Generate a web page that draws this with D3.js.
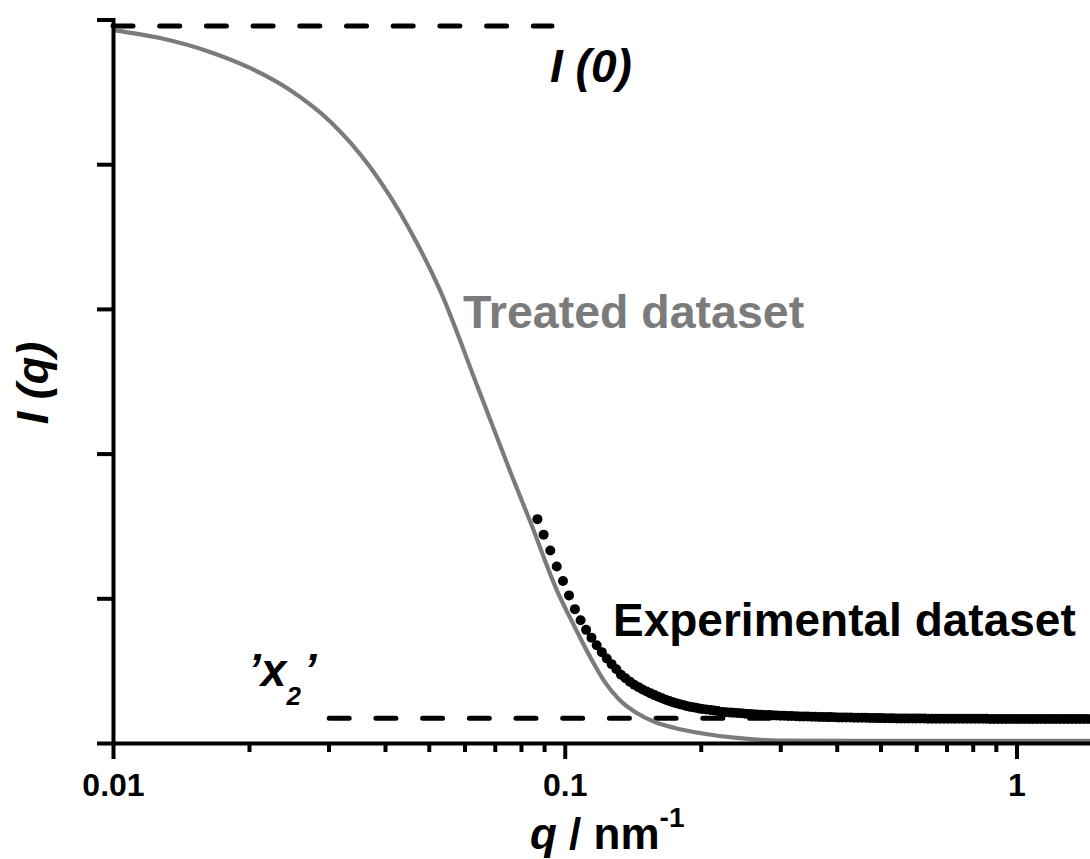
<!DOCTYPE html>
<html>
<head>
<meta charset="utf-8">
<script src="https://cdn.jsdelivr.net/npm/d3@7"></script>
<style>
  html, body { margin: 0; padding: 0; background: #fff; }
  svg { display: block; font-family: "Liberation Sans", Arial, Helvetica, sans-serif; }
</style>
</head>
<body>
<svg id="chart" width="1090" height="859"></svg>
<script>
// ---------------- data ----------------
const xMajorTicks = [0.01, 0.1, 1];
const xMajorLabels = ["0.01", "0.1", "1"];
const xMinorTicks = [0.02, 0.03, 0.04, 0.05, 0.06, 0.07, 0.08, 0.09,
                     0.2, 0.3, 0.4, 0.5, 0.6, 0.7, 0.8, 0.9];
const yTicks = [0, 1, 2, 3, 4, 5];

// Treated dataset (grey line)
const treatedQ = [0.01000, 0.01270, 0.01639, 0.02010, 0.02464, 0.03021, 0.03704, 0.04541, 0.05291, 0.06453,
                  0.07595, 0.08411, 0.09601, 0.1052, 0.1148, 0.1226, 0.1323, 0.1443, 0.1582, 0.1751,
                  0.2020, 0.2402, 0.2991, 0.4272, 0.9170, 1.455];
const treatedI = [4.927, 4.872, 4.776, 4.665, 4.513, 4.297, 3.982, 3.546, 3.131, 2.439,
                  1.866, 1.520, 1.057, 0.802, 0.574, 0.422, 0.297, 0.207, 0.145, 0.104,
                  0.066, 0.035, 0.017, 0.014, 0.014, 0.014];

// Experimental dataset (black points)
const expQ = [
  0.0870, 0.0898, 0.0929, 0.0960, 0.0991, 0.1022, 0.1053, 0.1084, 0.1115, 0.1146,
  0.1177, 0.1208, 0.1239, 0.1270, 0.1301, 0.1332, 0.1363, 0.1394, 0.1425, 0.1456,
  0.1487, 0.1518, 0.1549, 0.1580, 0.1611, 0.1642, 0.1673, 0.1704, 0.1735, 0.1766,
  0.1797, 0.1828, 0.1859, 0.1890, 0.1921, 0.1952, 0.1983, 0.2014,
  0.2055, 0.210, 0.214, 0.218, 0.223, 0.227, 0.232, 0.236, 0.241, 0.246,
  0.251, 0.256, 0.261, 0.266, 0.272, 0.277, 0.283, 0.288, 0.294, 0.300,
  0.306, 0.312, 0.318, 0.325, 0.331, 0.338, 0.345, 0.352, 0.359, 0.366,
  0.373, 0.381, 0.388, 0.396, 0.404, 0.412, 0.420, 0.429, 0.437, 0.446,
  0.455, 0.464, 0.473, 0.483, 0.493, 0.502, 0.512, 0.523, 0.533, 0.544,
  0.555, 0.566, 0.577, 0.589, 0.600, 0.612, 0.625, 0.637, 0.650, 0.663,
  0.676, 0.690, 0.704, 0.718, 0.732, 0.747, 0.762, 0.777, 0.793, 0.808,
  0.825, 0.841, 0.858, 0.875, 0.892, 0.910, 0.929, 0.947, 0.966, 0.985,
  1.005, 1.025, 1.046, 1.067, 1.088, 1.110, 1.132, 1.155, 1.178, 1.201,
  1.225, 1.250, 1.275, 1.300, 1.326, 1.353, 1.380, 1.408, 1.436, 1.465
];
const expI = [
  1.547, 1.440, 1.330, 1.220, 1.120, 1.020, 0.925, 0.848, 0.782, 0.728,
  0.676, 0.628, 0.584, 0.545, 0.510, 0.472, 0.447, 0.424, 0.403, 0.386,
  0.370, 0.356, 0.343, 0.331, 0.320, 0.309, 0.299, 0.290, 0.282, 0.275,
  0.268, 0.262, 0.256, 0.251, 0.247, 0.243, 0.239, 0.235,
  0.232, 0.228, 0.224, 0.221, 0.215, 0.213, 0.211, 0.209, 0.207, 0.205,
  0.202, 0.200, 0.198, 0.197, 0.195, 0.194, 0.193, 0.191, 0.190, 0.189,
  0.188, 0.187, 0.186, 0.185, 0.184, 0.184, 0.183, 0.182, 0.181, 0.180,
  0.180, 0.179, 0.179, 0.178, 0.177, 0.177, 0.176, 0.176, 0.175, 0.175,
  0.174, 0.174, 0.173, 0.173, 0.172, 0.172, 0.171, 0.171, 0.171, 0.170,
  0.170, 0.170, 0.169, 0.169, 0.169, 0.169, 0.169, 0.168, 0.168, 0.168,
  0.168, 0.168, 0.168, 0.168, 0.168, 0.167, 0.167, 0.167, 0.167, 0.167,
  0.167, 0.167, 0.167, 0.166, 0.166, 0.166, 0.166, 0.166, 0.166, 0.166,
  0.166, 0.166, 0.166, 0.166, 0.166, 0.166, 0.166, 0.166, 0.166, 0.166,
  0.166, 0.166, 0.166, 0.166, 0.166, 0.166, 0.166, 0.166, 0.166, 0.166
];

// reference levels (dashed lines)
const i0Level = [4.955];          // I(0)
const i0Span = [0.01, 0.0937];
const x2Level = [0.171];          // 'x2' background
const x2Span = [0.0301, 1.46];

// ---------------- drawing ----------------
const W = 1090, H = 859;
const svg = d3.select("#chart");
svg.append("rect").attr("width", W).attr("height", H).attr("fill", "#fff");

const x = d3.scaleLog().domain([0.01, 1.4545]).range([113, 1090]);
const y = d3.scaleLinear().domain([0, 5]).range([743, 19.5]);

// dashed reference lines
function dashed(span, level) {
  svg.append("line")
    .attr("x1", x(span[0])).attr("x2", x(span[1]))
    .attr("y1", y(level)).attr("y2", y(level))
    .attr("stroke", "#000").attr("stroke-width", 5)
    .attr("stroke-linecap", "round")
    .attr("stroke-dasharray", "20 26.7");
}
dashed(i0Span, i0Level[0]);
dashed(x2Span, x2Level[0]);

// treated dataset line
const treated = treatedQ.map((q, i) => ({ q, I: treatedI[i] }));
svg.append("path")
  .datum(treated)
  .attr("fill", "none")
  .attr("stroke", "#7b7b7b")
  .attr("stroke-width", 4.2)
  .attr("d", d3.line().x(d => x(d.q)).y(d => y(d.I)).curve(d3.curveMonotoneX));

// experimental dataset points
const exp = expQ.map((q, i) => ({ q, I: expI[i] }));
svg.append("g").selectAll("circle")
  .data(exp)
  .join("circle")
  .attr("cx", d => x(d.q))
  .attr("cy", d => y(d.I))
  .attr("r", 5)
  .attr("fill", "#000");

// axes
const axisStyle = g => {
  g.select(".domain").attr("stroke", "#000").attr("stroke-width", 4).attr("stroke-linecap", "square");
  g.selectAll(".tick line").attr("stroke", "#000").attr("stroke-width", 4);
};

const gxMinor = svg.append("g")
  .attr("transform", `translate(0,${y(0)})`)
  .call(d3.axisBottom(x).tickValues(xMinorTicks).tickSize(9).tickFormat(""));
gxMinor.select(".domain").remove();
gxMinor.selectAll(".tick line").attr("stroke", "#000").attr("stroke-width", 4);

const gx = svg.append("g")
  .attr("transform", `translate(0,${y(0)})`)
  .call(d3.axisBottom(x).tickValues(xMajorTicks).tickSize(16).tickSizeOuter(0).tickPadding(14)
        .tickFormat((d, i) => xMajorLabels[i]));
gx.call(axisStyle);
gx.selectAll(".tick text")
  .attr("fill", "#000")
  .style("font-family", '"Liberation Sans", Arial, sans-serif')
  .style("font-size", "32px").style("font-weight", "bold");

const gy = svg.append("g")
  .attr("transform", `translate(${x(0.01)},0)`)
  .call(d3.axisLeft(y).tickValues(yTicks).tickSize(16).tickSizeOuter(0).tickFormat(""));
gy.call(axisStyle);

// axis titles
const xt = svg.append("text")
  .attr("x", 530).attr("y", 849)
  .attr("fill", "#000")
  .style("font-size", "44px").style("font-weight", "bold");
xt.append("tspan").style("font-style", "italic").text("q");
xt.append("tspan").text(" / nm");
xt.append("tspan").attr("dy", -22).style("font-size", "28px").text("-1");

svg.append("text")
  .attr("transform", "translate(48,383) rotate(-90)")
  .attr("text-anchor", "middle")
  .attr("fill", "#000")
  .style("font-size", "45px").style("font-weight", "bold").style("font-style", "italic")
  .text("I (q)");

// annotations
svg.append("text")
  .attr("x", 550).attr("y", 82)
  .attr("fill", "#000")
  .style("font-size", "46px").style("font-weight", "bold").style("font-style", "italic")
  .text("I (0)");

svg.append("text")
  .attr("x", 463).attr("y", 328)
  .attr("fill", "#7b7b7b")
  .style("font-size", "46.5px").style("font-weight", "bold")
  .text("Treated dataset");

svg.append("text")
  .attr("x", 613).attr("y", 636)
  .attr("fill", "#000")
  .style("font-size", "46px").style("font-weight", "bold")
  .text("Experimental dataset");

const x2 = svg.append("text")
  .attr("x", 248).attr("y", 686)
  .attr("fill", "#000")
  .style("font-size", "46px").style("font-weight", "bold").style("font-style", "italic");
x2.append("tspan").text("\u2019x");
x2.append("tspan").attr("dy", 19).style("font-size", "26px").text("2");
x2.append("tspan").attr("dy", -19).attr("dx", 3).text("\u2019");
</script>
</body>
</html>
